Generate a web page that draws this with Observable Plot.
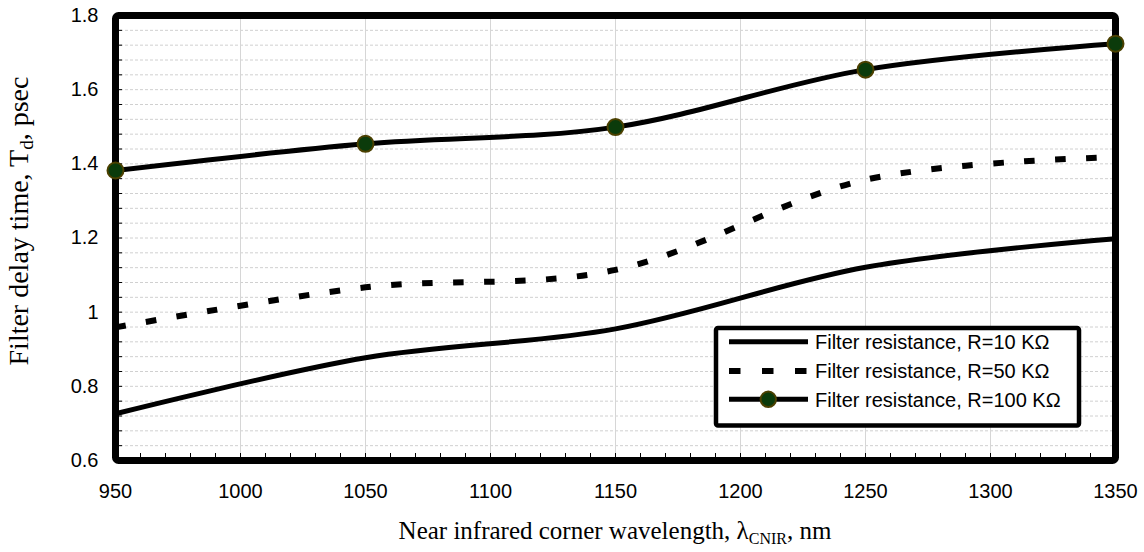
<!DOCTYPE html>
<html><head><meta charset="utf-8">
<script src="https://cdn.jsdelivr.net/npm/d3@7"></script>
<script src="https://cdn.jsdelivr.net/npm/@observablehq/plot@0.6"></script>
<style>
html,body{margin:0;padding:0;background:#fff;}
#chart{width:1144px;height:552px;}
</style></head><body><div id="chart"></div>
<script>
// Data
const wavelengths = [950, 1050, 1150, 1250, 1350];
const r10 = [0.726, 0.877, 0.955, 1.121, 1.198];
const r50 = [0.959, 1.067, 1.114, 1.357, 1.418];
const r100 = [1.382, 1.454, 1.499, 1.654, 1.724];
const seriesNames = ["Filter resistance, R=10 KΩ", "Filter resistance, R=50 KΩ", "Filter resistance, R=100 KΩ"];
const xTicks = [950, 1000, 1050, 1100, 1150, 1200, 1250, 1300, 1350];
const yTicks = [0.6, 0.8, 1, 1.2, 1.4, 1.6, 1.8];
const xMinorTicks = d3.range(950, 1351, 10);
const yMinorTicks = d3.range(0, 31).map(i => 0.6 + i * 0.04);
const xTitle = ["Near infrared corner wavelength, λ", "CNIR", ", nm"];
const yTitle = ["Filter delay time, T", "d", ", psec"];

const seriesValues = [r10, r50, r100];
const rows = seriesNames.flatMap((s, k) => wavelengths.map((w, i) => ({w, v: seriesValues[k][i], s})));
const bySeries = k => rows.filter(d => d.s === seriesNames[k]);

const W = 1144, H = 552;
const mL = 115, mR = 29, mT = 15, mB = 92;
const pw = W - mL - mR, ph = H - mT - mB;

const svg = Plot.plot({
  width: W, height: H,
  marginLeft: mL, marginRight: mR, marginTop: mT, marginBottom: mB,
  style: {fontFamily: "'Liberation Sans', Arial, sans-serif", fontSize: "20px", color: "black", background: "white", overflow: "visible"},
  x: {domain: [950, 1350], label: null},
  y: {domain: [0.6, 1.8], label: null},
  marks: [
    Plot.gridY(yMinorTicks, {stroke: "#d0d0d0", strokeOpacity: 1, strokeDasharray: "3,2", strokeWidth: 1}),
    Plot.gridX(xTicks, {stroke: "#d6d6d6", strokeOpacity: 1, strokeWidth: 1}),
    Plot.tickX(xMinorTicks, {x: d => d, insetTop: ph - 7, stroke: "black", strokeWidth: 1}),
    Plot.tickY(yMinorTicks, {y: d => d, insetRight: pw - 7, stroke: "black", strokeWidth: 1}),
    Plot.frame({stroke: "black", strokeWidth: 7, rx: 3, strokeLinejoin: "round"}),
    Plot.line(bySeries(0), {x: "w", y: "v", stroke: "black", strokeWidth: 5, curve: "cardinal", tension: 0}),
    Plot.line(bySeries(1), {x: "w", y: "v", stroke: "black", strokeWidth: 6, strokeDasharray: "10.5,20.5", strokeLinecap: "butt", curve: "cardinal", tension: 0}),
    Plot.line(bySeries(2), {x: "w", y: "v", stroke: "black", strokeWidth: 5, curve: "cardinal", tension: 0}),
    Plot.dot(bySeries(2), {x: "w", y: "v", r: 8, fill: "#0b3b0b", stroke: "#4b4000", strokeWidth: 2}),
    Plot.axisX(xTicks, {tickSize: 0, tickPadding: 23, label: null, tickFormat: d => String(d), fontSize: 20}),
    Plot.axisY(yTicks, {tickSize: 0, tickPadding: 17, label: null, tickFormat: d => String(+d.toFixed(1)), fontSize: 20})
  ]
});
document.getElementById("chart").appendChild(svg);

const s = d3.select(svg);
const serif = "'Liberation Serif', 'Times New Roman', serif";

// X title
const xt = s.append("text")
  .attr("x", mL + pw / 2).attr("y", 539)
  .attr("text-anchor", "middle")
  .attr("font-family", serif).attr("font-size", 25).attr("fill", "black");
xt.append("tspan").text(xTitle[0]);
xt.append("tspan").attr("font-size", 16).attr("dy", 5).text(xTitle[1]);
xt.append("tspan").attr("dy", -5).text(xTitle[2]);

// Y title
const yt = s.append("text")
  .attr("transform", `translate(28,221) rotate(-90)`)
  .attr("text-anchor", "middle")
  .attr("font-family", serif).attr("font-size", 28).attr("fill", "black");
yt.append("tspan").text(yTitle[0]);
yt.append("tspan").attr("font-size", 19).attr("dy", 5).text(yTitle[1]);
yt.append("tspan").attr("dy", -5).text(yTitle[2]);

// Legend
const lg = s.append("g").attr("font-family", "'Liberation Sans', Arial, sans-serif").attr("font-size", 20).attr("text-anchor", "start");
lg.append("rect").attr("x", 716).attr("y", 328).attr("width", 363).attr("height", 97.5)
  .attr("fill", "white").attr("stroke", "black").attr("stroke-width", 4.5).attr("rx", 2);
const rowsY = [341.7, 371, 399.3];
lg.append("line").attr("x1", 729).attr("x2", 808).attr("y1", rowsY[0]).attr("y2", rowsY[0])
  .attr("stroke", "black").attr("stroke-width", 5);
lg.append("line").attr("x1", 729).attr("x2", 808).attr("y1", rowsY[1]).attr("y2", rowsY[1])
  .attr("stroke", "black").attr("stroke-width", 6).attr("stroke-dasharray", "11.5,21.5");
lg.append("line").attr("x1", 729).attr("x2", 808).attr("y1", rowsY[2]).attr("y2", rowsY[2])
  .attr("stroke", "black").attr("stroke-width", 5);
lg.append("circle").attr("cx", 768.3).attr("cy", rowsY[2]).attr("r", 7.7)
  .attr("fill", "#0b3b0b").attr("stroke", "#4b4000").attr("stroke-width", 2);
seriesNames.forEach((n, i) => {
  lg.append("text").attr("x", 815).attr("y", rowsY[i] + 7.3).attr("fill", "black").attr("text-anchor", "start").text(n);
});
</script>
</body></html>
